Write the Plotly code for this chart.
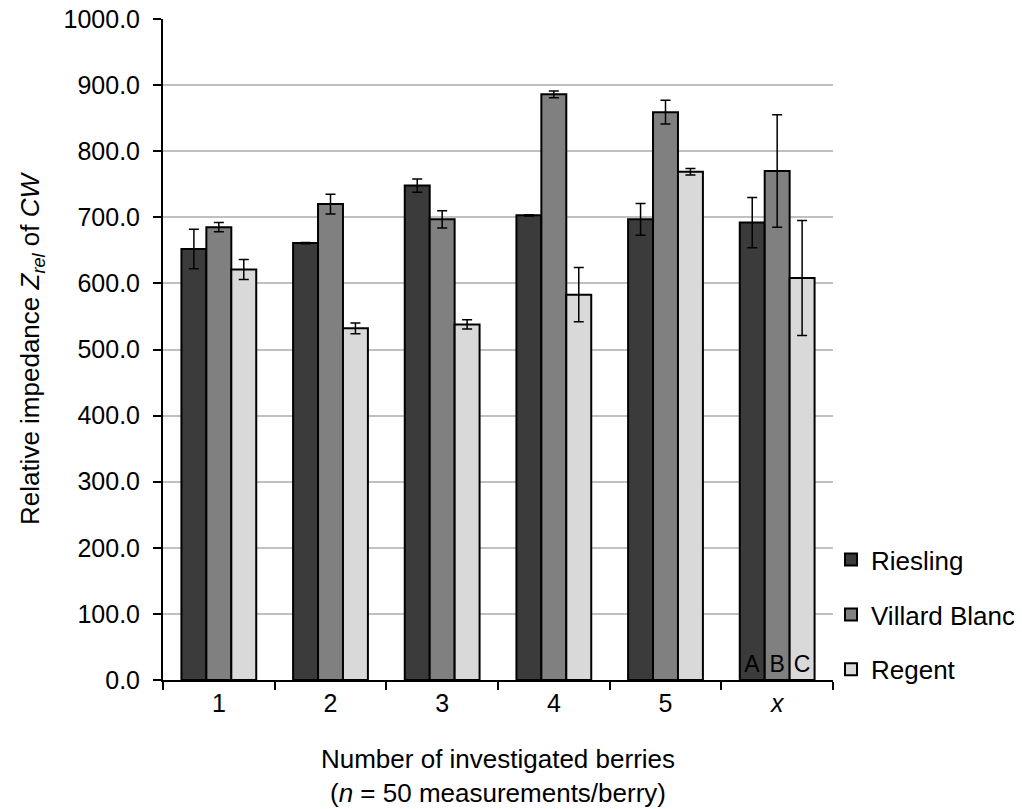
import plotly.graph_objects as go

categories = ["1", "2", "3", "4", "5", "<i>x</i>"]
riesling = [652, 661, 748, 703, 697, 692]
riesling_err = [30, 1, 10, 1, 24, 38]
villard = [685, 720, 697, 886, 859, 770]
villard_err = [7, 15, 13, 5, 18, 85]
regent = [621, 532, 538, 583, 769, 608]
regent_err = [15, 8, 7, 41, 5, 87]
riesling_text = ["", "", "", "", "", "A"]
villard_text = ["", "", "", "", "", "B"]
regent_text = ["", "", "", "", "", "C"]

series = [
    ("Riesling", riesling, riesling_err, riesling_text, "#3b3b3b"),
    ("Villard Blanc", villard, villard_err, villard_text, "#808080"),
    ("Regent", regent, regent_err, regent_text, "#d9d9d9"),
]

FONT = "Liberation Sans, Arial"

fig = go.Figure()
for i, (name, vals, errs, txt, col) in enumerate(series):
    fig.add_trace(go.Bar(
        name=name, x=categories, y=vals,
        marker=dict(color=col, line=dict(color="black", width=2)),
        error_y=dict(type="data", array=errs, visible=True, color="black", thickness=1.5, width=5),
        text=txt, textposition="inside", insidetextanchor="start",
        textfont=dict(color="black", size=23, family=FONT),
        textangle=0,
        legendgroup=name,
    ))

fig.update_layout(
    width=1022, height=809,
    barmode="group", bargap=0.33, bargroupgap=0,
    plot_bgcolor="white", paper_bgcolor="white",
    margin=dict(l=155, r=197, t=11, b=137, autoexpand=False),
    font=dict(family=FONT, size=25, color="black"),
    showlegend=True,
    legend=dict(x=0.997, xanchor="left", y=-0.02, yanchor="bottom",
                font=dict(size=26), traceorder="grouped", tracegroupgap=18,
                bgcolor="rgba(0,0,0,0)"),
    uniformtext=dict(mode=False),
)
fig.update_yaxes(
    range=[0, 1000], dtick=100, tickformat=".1f", automargin=False,
    showgrid=True, gridcolor="#c0c0c0", gridwidth=1.5,
    showline=True, linecolor="black", linewidth=2,
    ticks="outside", ticklen=8, tickcolor="black", tickwidth=2,
    tickfont=dict(size=25), ticklabelstandoff=8, ticklabeloverflow="allow",
    title=dict(text="Relative impedance <i>Z</i><sub><i>rel</i></sub> of <i>CW</i>", font=dict(size=26), standoff=16),
    zeroline=False,
)
fig.update_xaxes(
    automargin=False,
    showline=True, linecolor="black", linewidth=2,
    ticks="outside", tickson="boundaries", ticklen=8, tickcolor="black", tickwidth=2,
    tickfont=dict(size=25),
    title=dict(text="Number of investigated berries<br>(<i>n</i> = 50 measurements/berry)", font=dict(size=26), standoff=34),
)

fig.write_html("out.html")
